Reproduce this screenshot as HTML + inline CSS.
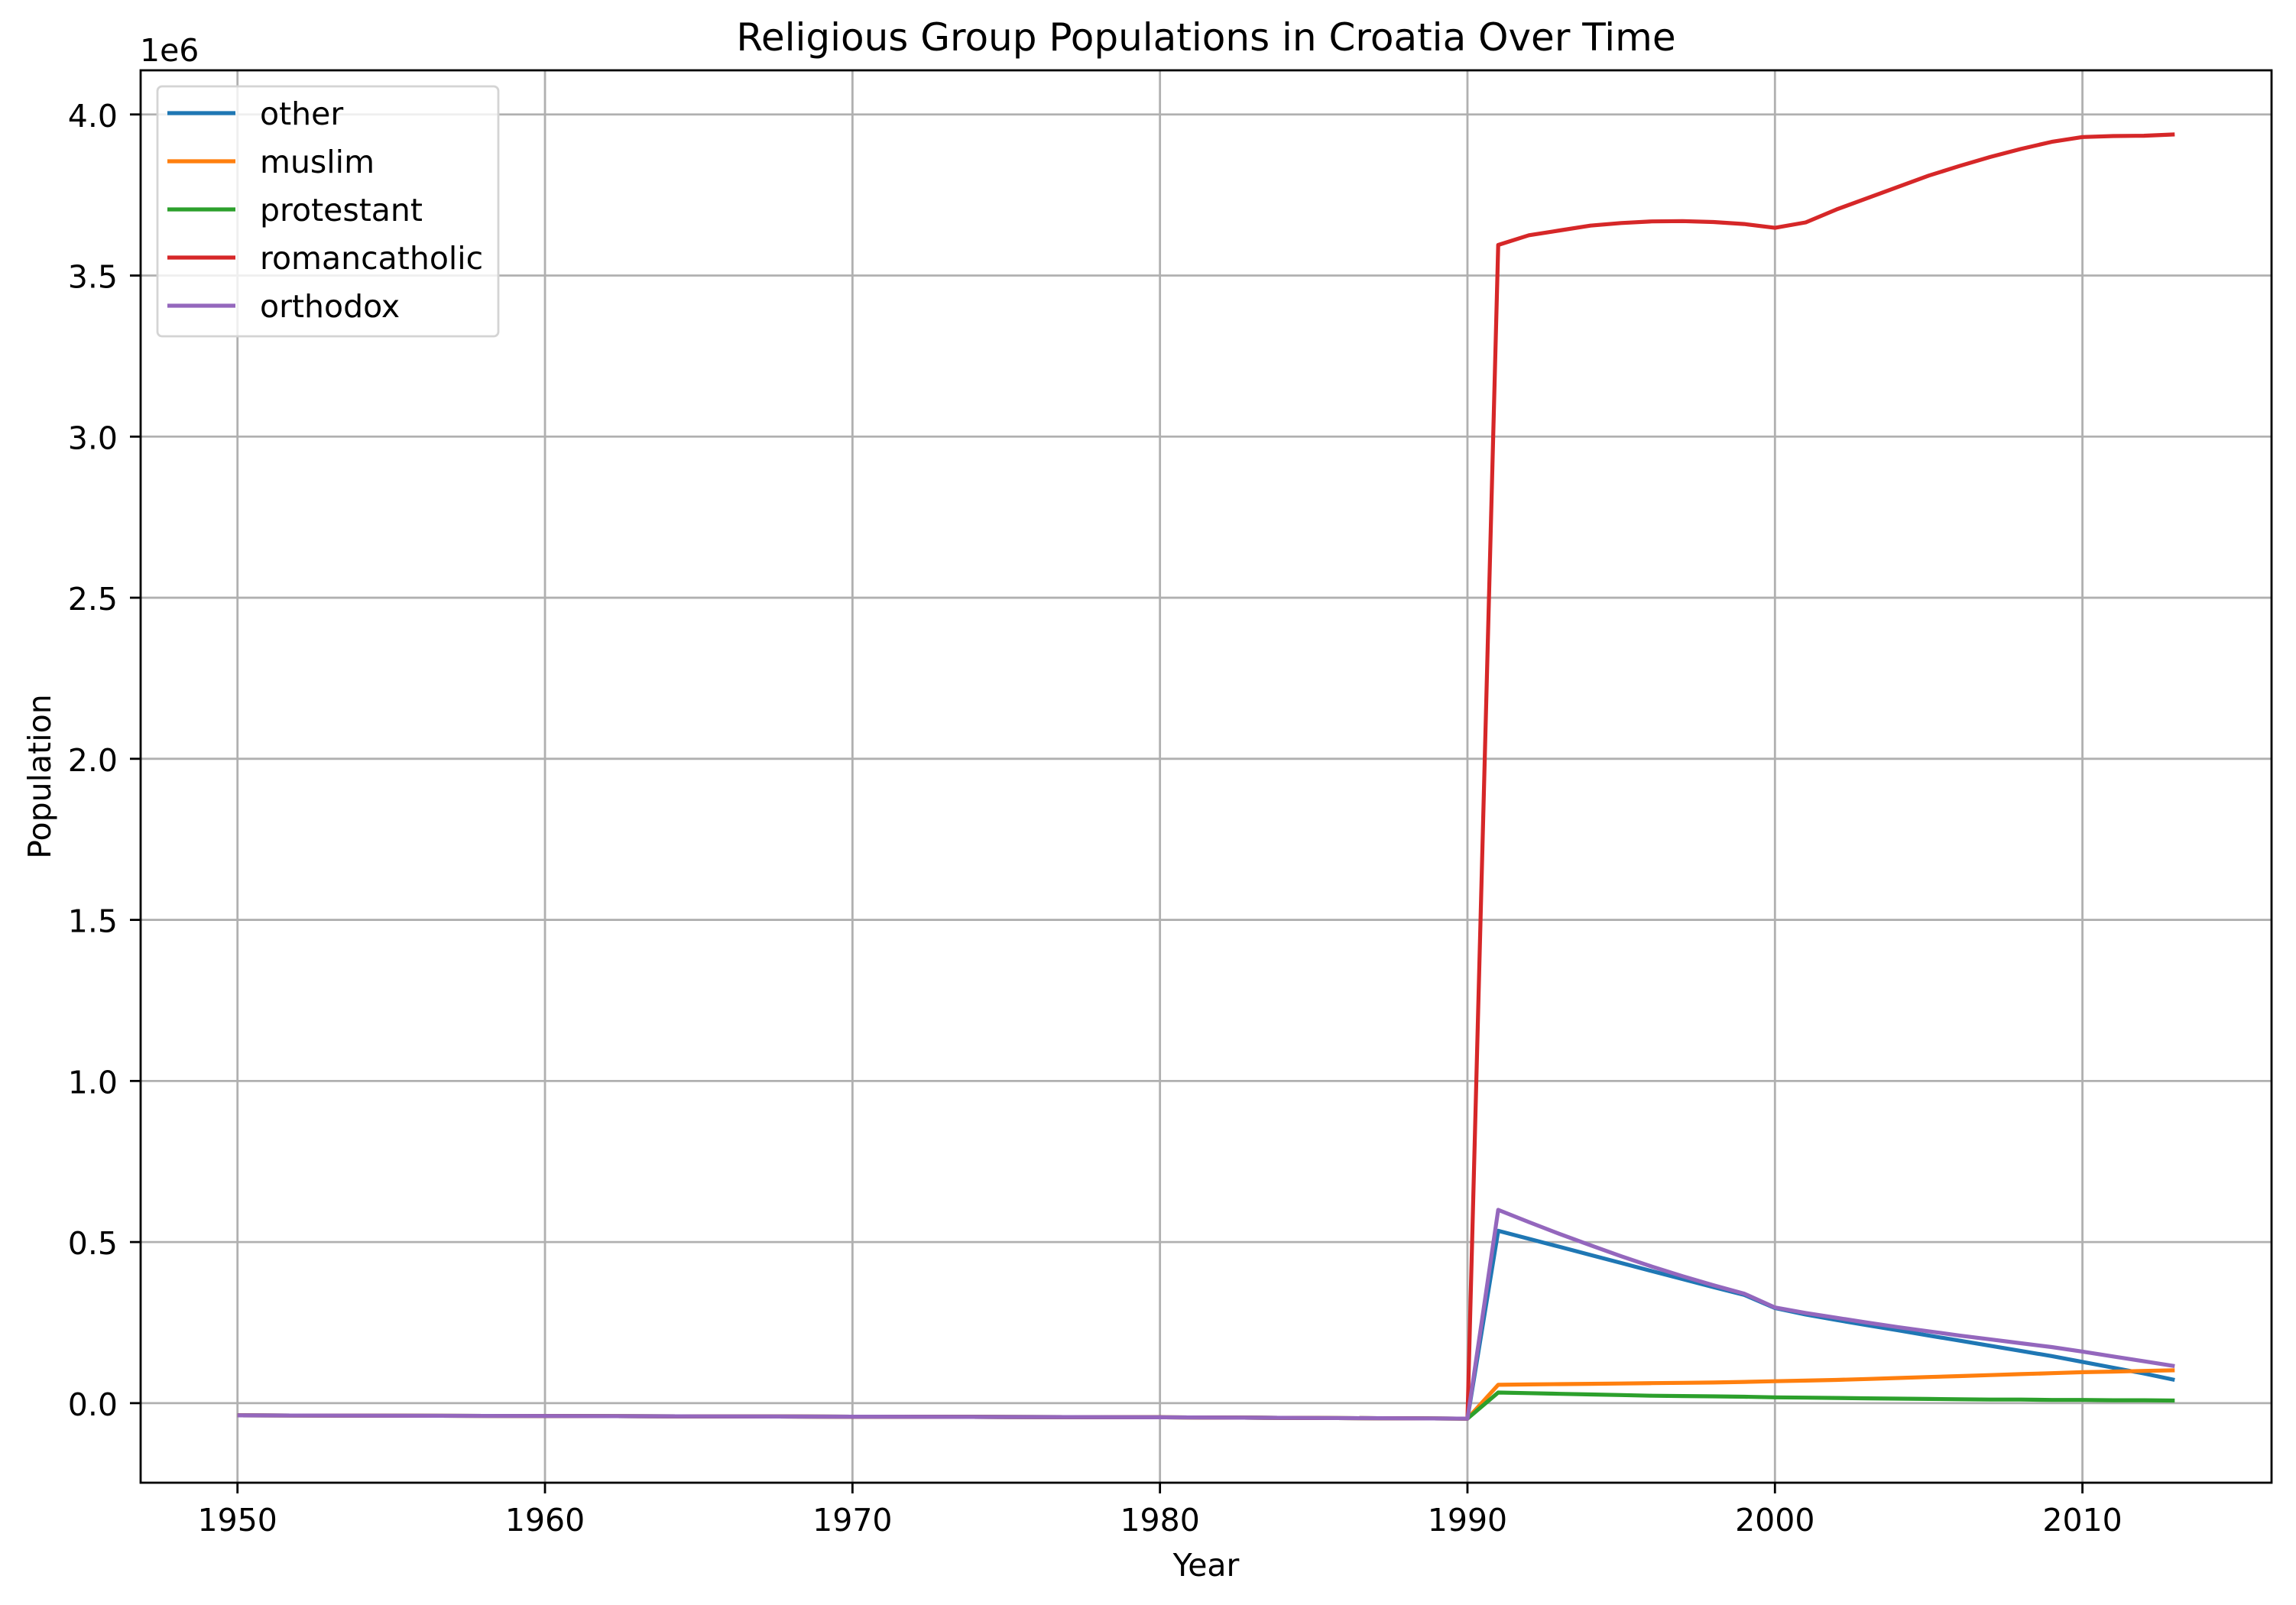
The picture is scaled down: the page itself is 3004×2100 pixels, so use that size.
<!DOCTYPE html>
<html><head><meta charset="utf-8"><style>
html,body{margin:0;padding:0;background:#fff}
svg{display:block;font-family:"DejaVu Sans","Liberation Sans",sans-serif}
</style></head><body>
<svg id="chart" width="3004" height="2100" viewBox="0 0 3004 2100">
<rect width="3004" height="2100" fill="#fff"/>
<g id="grid"></g>
<g id="series"></g>
<g id="axes"></g>
<text x="1578" y="66" text-anchor="middle" font-size="50" fill="#000">Religious Group Populations in Croatia Over Time</text>
<text x="1578" y="2062" text-anchor="middle" font-size="41" fill="#000">Year</text>
<text transform="translate(66,1016) rotate(-90)" text-anchor="middle" font-size="41" fill="#000">Population</text>
<text x="183" y="80" font-size="41" fill="#000">1e6</text>
<g id="legend"></g>
</svg>
<script>
const years = [1950,1955,1960,1965,1970,1975,1980,1985,1990,1991,1992,1993,1994,1995,1996,1997,1998,1999,2000,2001,2002,2003,2004,2005,2006,2007,2008,2009,2010,2011,2012,2013];
const seriesNames = ["other","muslim","protestant","romancatholic","orthodox"];
const seriesColors = ["#1f77b4","#ff7f0e","#2ca02c","#d62728","#9467bd"];
const otherVals = [-0.038,-0.039,-0.040,-0.041,-0.042,-0.043,-0.044,-0.046,-0.048,0.535,0.51,0.485,0.46,0.435,0.41,0.385,0.36,0.336,0.295,0.275,0.258,0.242,0.226,0.21,0.194,0.178,0.162,0.146,0.128,0.11,0.092,0.072];
const muslimVals = [-0.038,-0.039,-0.040,-0.041,-0.042,-0.043,-0.044,-0.046,-0.048,0.057,0.058,0.059,0.06,0.061,0.062,0.063,0.064,0.066,0.068,0.07,0.072,0.075,0.078,0.081,0.084,0.087,0.09,0.093,0.096,0.098,0.1,0.102];
const protestantVals = [-0.038,-0.039,-0.040,-0.041,-0.042,-0.043,-0.044,-0.046,-0.048,0.033,0.031,0.029,0.027,0.025,0.023,0.022,0.021,0.02,0.018,0.017,0.016,0.015,0.014,0.013,0.012,0.011,0.011,0.01,0.01,0.009,0.009,0.008];
const romancatholicVals = [-0.038,-0.039,-0.040,-0.041,-0.042,-0.043,-0.044,-0.046,-0.048,3.595,3.625,3.64,3.655,3.663,3.668,3.669,3.666,3.66,3.648,3.665,3.705,3.74,3.775,3.81,3.84,3.868,3.893,3.915,3.93,3.933,3.934,3.938];
const orthodoxVals = [-0.038,-0.039,-0.040,-0.041,-0.042,-0.043,-0.044,-0.046,-0.048,0.60,0.562,0.525,0.49,0.456,0.424,0.394,0.366,0.34,0.297,0.28,0.265,0.25,0.236,0.223,0.21,0.198,0.186,0.174,0.16,0.145,0.13,0.115];
const xTicks = [1950,1960,1970,1980,1990,2000,2010];
const yTicks = [0,0.5,1.0,1.5,2.0,2.5,3.0,3.5,4.0];
const yTickLabels = ["0.0","0.5","1.0","1.5","2.0","2.5","3.0","3.5","4.0"];

const L=184,R=2972,T=92,B=1940;
const xMin=1946.85,xMax=2016.15,yMin=-0.247,yMax=4.137;
const xs=v=>L+(v-xMin)/(xMax-xMin)*(R-L);
const ys=v=>B-(v-yMin)/(yMax-yMin)*(B-T);
const NS="http://www.w3.org/2000/svg";
function mk(tag,attrs,parent){const e=document.createElementNS(NS,tag);for(const k in attrs)e.setAttribute(k,attrs[k]);parent.appendChild(e);return e;}
const grid=document.getElementById('grid'),axes=document.getElementById('axes'),ser=document.getElementById('series'),leg=document.getElementById('legend');

xTicks.forEach(t=>{
  const x=xs(t);
  const g=mk('line',{x1:x,x2:x,y1:T,y2:B,stroke:'#b0b0b0','stroke-width':2.8},grid);
  
  
  const tk=mk('line',{x1:x,x2:x,y1:B,y2:B+14,stroke:'#000','stroke-width':2.8},axes);
  
  
  const tx=mk('text',{x:x,y:2003,'text-anchor':'middle','font-size':41,fill:'#000'},axes);
  tx.textContent=t;
  
  
});
yTicks.forEach((t,i)=>{
  const y=ys(t);
  const g=mk('line',{x1:L,x2:R,y1:y,y2:y,stroke:'#b0b0b0','stroke-width':2.8},grid);
  
  
  const tk=mk('line',{x1:L-14,x2:L,y1:y,y2:y,stroke:'#000','stroke-width':2.8},axes);
  
  
  const tx=mk('text',{x:154,y:y+16,'text-anchor':'end','font-size':41,fill:'#000'},axes);
  tx.textContent=yTickLabels[i];
  
  
});
const frame=mk('rect',{x:L,y:T,width:R-L,height:B-T,fill:'none',stroke:'#000','stroke-width':2.8},axes);



const allVals=[otherVals,muslimVals,protestantVals,romancatholicVals,orthodoxVals];
allVals.forEach((vals,si)=>{
  const d=vals.map((v,i)=>(i?'L':'M')+xs(years[i]).toFixed(1)+','+ys(v).toFixed(1)).join(' ');
  const p=mk('path',{d:d,fill:'none',stroke:seriesColors[si],'stroke-width':5.2,'stroke-linejoin':'round'},ser);
  
  
});

const box=mk('rect',{x:206,y:113,width:446,height:327,rx:6,fill:'#fff','fill-opacity':0.8,stroke:'#d4d4d4','stroke-width':2.8},leg);


seriesNames.forEach((n,i)=>{
  const y=148+i*63;
  const ln=mk('line',{x1:219,x2:308,y1:y,y2:y,stroke:seriesColors[i],'stroke-width':5.2},leg);
  
  
  const tx=mk('text',{x:340,y:y+15,'font-size':41,fill:'#000'},leg);
  tx.textContent=n;
  
  
});
</script>
</body></html>
